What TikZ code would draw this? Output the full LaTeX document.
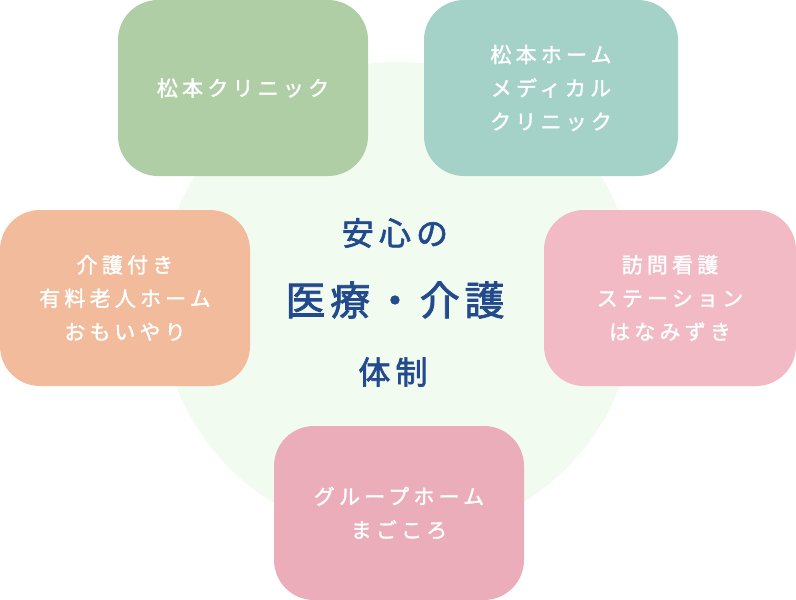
\documentclass[tikz,border=0pt]{standalone}
\usepackage{fontspec}
\newfontfamily\jpbox[LetterSpace=20,FakeBold=1.6]{Noto Sans CJK JP}
\newfontfamily\jpmid[LetterSpace=16,FakeBold=2]{Noto Sans CJK JP}
\newfontfamily\jpbig[LetterSpace=12,FakeBold=2]{Noto Sans CJK JP}
\definecolor{bgcircle}{HTML}{F1FBF0}
\definecolor{cgreen}{HTML}{B0CEA6}
\definecolor{cteal}{HTML}{A5D2C8}
\definecolor{corange}{HTML}{F1BB9C}
\definecolor{cpinkr}{HTML}{F2BAC5}
\definecolor{cpinkb}{HTML}{EBADB9}
\definecolor{navy}{HTML}{234A8C}
\tikzset{
  box/.style={rounded corners=40pt, inner sep=0pt, minimum width=250pt, minimum height=176pt,
    text=white, align=center, font=\jpbox\fontsize{21}{33.5}\selectfont},
  ctext/.style={text=navy, inner sep=0pt, align=center},
}
\begin{document}
\begin{tikzpicture}[x=1pt,y=-1pt]
\useasboundingbox (0,0) rectangle (796,600);
\fill[bgcircle] (398,300) circle (238);
\node[box, fill=cgreen] (clinic) at (243,88) {松本クリニック};
\node[box, fill=cteal, minimum width=254pt] (home) at (551,88) {松本ホーム\\メディカル\\クリニック};
\node[box, fill=corange] (care) at (125,298) {介護付き\\有料老人ホーム\\おもいやり};
\node[box, fill=cpinkr, minimum width=252pt] (visit) at (670,298) {訪問看護\\ステーション\\はなみずき};
\node[box, fill=cpinkb, minimum height=174pt] (group) at (399,513) {グループホーム\\まごころ};
\node[ctext, font=\jpmid\fontsize{32}{34}\selectfont] (anshin) at (395,233) {安心の};
\node[ctext, font=\jpbig\fontsize{40}{44}\selectfont] (iryo) at (395,300) {医療・介護};
\node[ctext, font=\jpmid\fontsize{32}{34}\selectfont] (taisei) at (393,372) {体制};
\end{tikzpicture}
\end{document}
